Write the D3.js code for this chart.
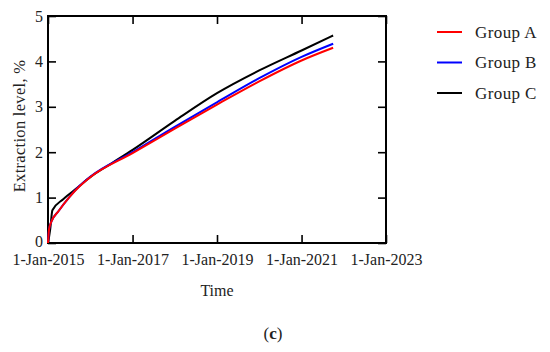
<!DOCTYPE html>
<html lang="en">
<head>
    <meta charset="UTF-8">
    <title>Extraction level</title>
    <style>
        body, html {
            margin: 0;
            padding: 0;
            background: #ffffff;
        }
        svg text {
            font-family: 'Liberation Serif', 'DejaVu Serif', serif;
            fill: #222;
        }
    </style>
</head>
<body>
    <svg width="550" height="352"></svg>

    <script src="https://d3js.org/d3.v7.min.js"></script>
    <script>
        // data
        const seriesNames = ["Group A", "Group B", "Group C"];
        const seriesColors = ["#ff0000", "#0000ff", "#000000"];

        const groupA = [
            ["2015-01-01", 0], ["2015-01-10", 0.3], ["2015-02-01", 0.48], ["2015-04-01", 0.7],
            ["2015-07-01", 1.0], ["2015-10-01", 1.25], ["2016-01-01", 1.45], ["2017-01-01", 1.98],
            ["2018-01-01", 2.52], ["2019-01-01", 3.05], ["2020-01-01", 3.56], ["2021-01-01", 4.02],
            ["2021-10-01", 4.30]
        ];
        const groupB = [
            ["2015-01-01", 0], ["2015-01-10", 0.3], ["2015-02-01", 0.48], ["2015-04-01", 0.7],
            ["2015-07-01", 1.0], ["2015-10-01", 1.26], ["2016-01-01", 1.46], ["2017-01-01", 2.0],
            ["2018-01-01", 2.56], ["2019-01-01", 3.1], ["2020-01-01", 3.63], ["2021-01-01", 4.1],
            ["2021-10-01", 4.39]
        ];
        const groupC = [
            ["2015-01-01", 0], ["2015-01-20", 0.3], ["2015-02-08", 0.72], ["2015-05-15", 0.97],
            ["2015-09-08", 1.21], ["2016-01-01", 1.45], ["2016-07-01", 1.75], ["2017-01-01", 2.05],
            ["2018-01-01", 2.69], ["2019-01-01", 3.3], ["2020-01-01", 3.8], ["2021-01-01", 4.24],
            ["2021-10-01", 4.57]
        ];
        const xTicks = ["2015-01-01", "2017-01-01", "2019-01-01", "2021-01-01", "2023-01-01"];
        const yTicks = [0, 1, 2, 3, 4, 5];

        const parse = d3.timeParse("%Y-%m-%d");
        const series = [groupA, groupB, groupC].map(s => s.map(d => ({ date: parse(d[0]), value: d[1] })));

        const svg = d3.select("svg");
        const margin = { left: 48, right: 386, top: 16, bottom: 243 };

        const x = d3.scaleTime()
            .domain([parse("2015-01-01"), parse("2023-01-01")])
            .range([margin.left, margin.right]);
        const y = d3.scaleLinear()
            .domain([0, 5])
            .range([margin.bottom, margin.top]);

        const fmt = d3.timeFormat("%-d-%b-%Y");
        const tickDates = xTicks.map(parse);

        // bottom axis
        const xAxis = svg.append("g")
            .attr("transform", `translate(0,${margin.bottom})`)
            .call(d3.axisBottom(x).tickValues(tickDates).tickFormat(fmt).tickSizeInner(-8).tickSizeOuter(0).tickPadding(11));
        // top axis, ticks only
        const xTop = svg.append("g")
            .attr("transform", `translate(0,${margin.top})`)
            .call(d3.axisTop(x).tickValues(tickDates).tickFormat("").tickSizeInner(-8).tickSizeOuter(0));
        // left axis
        const yAxis = svg.append("g")
            .attr("transform", `translate(${margin.left},0)`)
            .call(d3.axisLeft(y).tickValues(yTicks).tickFormat(d3.format("d")).tickSizeInner(-8).tickSizeOuter(0).tickPadding(5));
        // right axis, ticks only
        const yRight = svg.append("g")
            .attr("transform", `translate(${margin.right},0)`)
            .call(d3.axisRight(y).tickValues(yTicks).tickFormat("").tickSizeInner(-8).tickSizeOuter(0));

        [xAxis, xTop, yAxis, yRight].forEach(a => {
            a.select(".domain").remove();
            a.selectAll("line").attr("stroke", "#000").attr("stroke-width", 1.6);
            a.selectAll("text").style("font-size", "16px").attr("fill", "#222");
        });
        // lift the "0" a touch so it clears the first date label
        yAxis.selectAll("text").filter(d => d === 0).attr("dy", "0.2em");

        // frame
        svg.append("rect")
            .attr("x", margin.left)
            .attr("y", margin.top)
            .attr("width", margin.right - margin.left)
            .attr("height", margin.bottom - margin.top)
            .attr("fill", "none")
            .attr("stroke", "#000")
            .attr("stroke-width", 2);

        const line = d3.line()
            .x(d => x(d.date))
            .y(d => y(d.value))
            .curve(d3.curveMonotoneX);

        // black under, red on top
        [2, 1, 0].forEach(i => {
            svg.append("path")
                .datum(series[i])
                .attr("fill", "none")
                .attr("stroke", seriesColors[i])
                .attr("stroke-width", 2)
                .attr("d", line);
        });

        // legend
        const legend = svg.append("g");
        seriesNames.forEach((name, i) => {
            const ly = 32 + i * 30.5;
            legend.append("line")
                .attr("x1", 437).attr("x2", 462)
                .attr("y1", ly).attr("y2", ly)
                .attr("stroke", seriesColors[i])
                .attr("stroke-width", 2);
            legend.append("text")
                .attr("x", 475)
                .attr("y", ly + 5.5)
                .style("font-size", "17px")
                .style("letter-spacing", "0.4px")
                .text(name);
        });

        // axis titles
        svg.append("text")
            .attr("transform", `translate(25,126) rotate(-90)`)
            .attr("text-anchor", "middle")
            .style("font-size", "16.5px")
            .style("letter-spacing", "0.3px")
            .text("Extraction level, %");

        svg.append("text")
            .attr("x", (margin.left + margin.right) / 2)
            .attr("y", 296)
            .attr("text-anchor", "middle")
            .style("font-size", "16px")
            .text("Time");

        const cap = svg.append("text")
            .attr("x", 273)
            .attr("y", 339)
            .attr("text-anchor", "middle")
            .style("font-size", "17px");
        cap.append("tspan").text("(");
        cap.append("tspan").style("font-weight", "bold").text("c");
        cap.append("tspan").text(")");
    </script>
</body>
</html>
